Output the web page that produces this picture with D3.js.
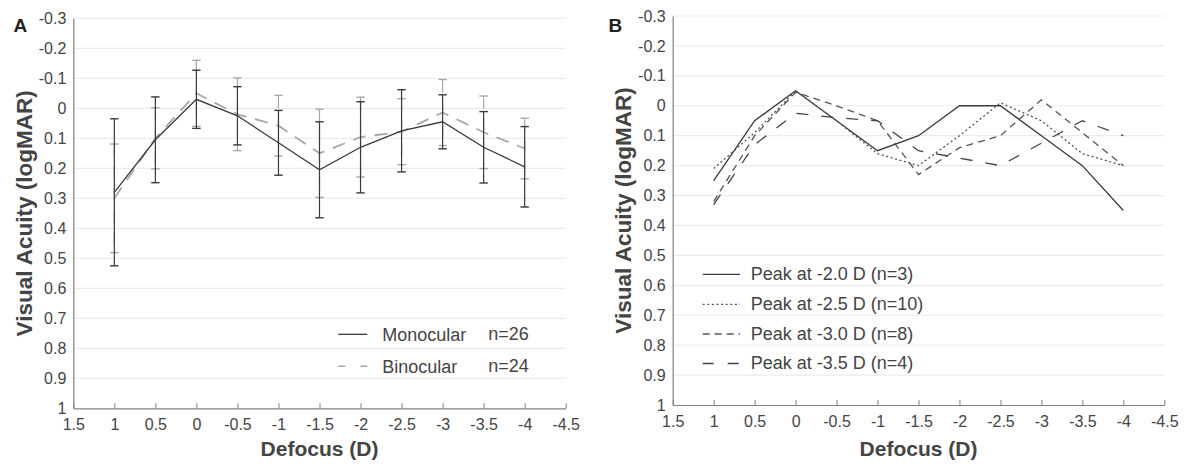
<!DOCTYPE html>
<html><head><meta charset="utf-8">
<script src="https://cdn.jsdelivr.net/npm/d3@7"></script>
<style>
html,body{margin:0;padding:0;background:#fff;}
svg{display:block;font-family:"Liberation Sans",Arial,sans-serif;}
</style></head>
<body>
<svg id="chart" width="1184" height="464"></svg>
<script>
// ---------- data ----------
const defocus = [1, 0.5, 0, -0.5, -1, -1.5, -2, -2.5, -3, -3.5, -4];
const xTickValues = [1.5, 1, 0.5, 0, -0.5, -1, -1.5, -2, -2.5, -3, -3.5, -4, -4.5];
const xTickLabels = ["1.5","1","0.5","0","-0.5","-1","-1.5","-2","-2.5","-3","-3.5","-4","-4.5"];
const yTickValues = [-0.3,-0.2,-0.1,0,0.1,0.2,0.3,0.4,0.5,0.6,0.7,0.8,0.9,1];
const yTickLabels = ["-0.3","-0.2","-0.1","0","0.1","0.2","0.3","0.4","0.5","0.6","0.7","0.8","0.9","1"];

// Panel A: mean and SD
const monoMean = [0.28, 0.105, -0.03, 0.025, 0.115, 0.205, 0.13, 0.075, 0.045, 0.13, 0.195];
const monoSD   = [0.245, 0.143, 0.097, 0.097, 0.108, 0.16, 0.152, 0.137, 0.09, 0.119, 0.134];
const binoMean = [0.30, 0.10, -0.05, 0.02, 0.058, 0.15, 0.096, 0.078, 0.014, 0.08, 0.134];
const binoSD   = [0.181, 0.102, 0.11, 0.121, 0.101, 0.147, 0.133, 0.11, 0.11, 0.121, 0.101];
const legendA = ["Monocular", "Binocular"];
const legendAn = ["n=26", "n=24"];

// Panel B: peak groups
const peak20 = [0.25, 0.05, -0.05, 0.05, 0.15, 0.10, 0.00, 0.00, 0.10, 0.20, 0.35];
const peak25 = [0.21, 0.09, -0.05, 0.05, 0.16, 0.20, 0.10, -0.01, 0.05, 0.16, 0.20];
const peak30 = [0.32, 0.10, -0.045, 0.00, 0.05, 0.23, 0.14, 0.10, -0.02, 0.09, 0.20];
const peak35 = [0.33, 0.13, 0.025, 0.04, 0.05, 0.15, 0.175, 0.20, 0.125, 0.05, 0.10];
const legendB = ["Peak at -2.0 D (n=3)", "Peak at -2.5 D (n=10)", "Peak at -3.0 D (n=8)", "Peak at -3.5 D (n=4)"];

// ---------- drawing ----------
const svg = d3.select("#chart");
const GRID = "#ebebeb", AXIS = "#808080", TXT = "#444";

function panel(opt) {
  const x = d3.scaleLinear().domain([1.5, -4.5]).range([opt.x0, opt.x1]);
  const y = d3.scaleLinear().domain([-0.3, 1]).range([opt.y0, opt.y1]);
  const g = svg.append("g");
  // gridlines
  g.append("g").selectAll("line").data(yTickValues.slice(0, -1)).join("line")
    .attr("x1", opt.x0).attr("x2", opt.x1)
    .attr("y1", d => y(d)).attr("y2", d => y(d))
    .attr("stroke", GRID).attr("stroke-width", 1.2);
  // x axis
  const xa = g.append("g").attr("transform", `translate(0,${opt.y1})`)
    .call(d3.axisBottom(x).tickValues(xTickValues)
      .tickFormat((d, i) => xTickLabels[i]).tickSizeInner(-5).tickSizeOuter(0).tickPadding(10.5));
  xa.select(".domain").attr("stroke", AXIS).attr("stroke-width", 1.2);
  xa.selectAll(".tick line").attr("stroke", AXIS).attr("stroke-width", 1);
  xa.selectAll("text").attr("fill", TXT).attr("font-size", 16);
  // y axis
  const ya = g.append("g").attr("transform", `translate(${opt.x0},0)`)
    .call(d3.axisLeft(y).tickValues(yTickValues)
      .tickFormat((d, i) => yTickLabels[i]).tickSize(0).tickPadding(7));
  ya.select(".domain").attr("stroke", AXIS).attr("stroke-width", 1.2);
  ya.selectAll("text").attr("fill", TXT).attr("font-size", 16);
  // titles
  g.append("text").attr("x", (opt.x0 + opt.x1) / 2).attr("y", 456)
    .attr("text-anchor", "middle").attr("font-weight", "bold").attr("font-size", 21)
    .attr("fill", TXT).text("Defocus (D)");
  g.append("text").attr("transform", `translate(${opt.x0 - 41.5},${(opt.y0 + opt.y1) / 2}) rotate(-90)`)
    .attr("text-anchor", "middle").attr("font-weight", "bold").attr("font-size", 22.5)
    .attr("fill", TXT).text("Visual Acuity (logMAR)");
  g.append("text").attr("x", opt.labelX).attr("y", 31.7)
    .attr("font-weight", "bold").attr("font-size", 19).attr("fill", "#222").text(opt.label);
  return {x, y, g};
}

// Panel A
const A = panel({x0: 73.3, x1: 565.7, y0: 18.3, y1: 408.3, label: "A", labelX: 13.5});
function errorSeries(P, mean, sd, color, dash, width) {
  const pts = defocus.map((d, i) => ({d, m: mean[i], s: sd[i]}));
  const eg = P.g.append("g").attr("stroke", color).attr("fill", "none");
  eg.selectAll("line.stem").data(pts).join("line").attr("class", "stem")
    .attr("x1", p => P.x(p.d)).attr("x2", p => P.x(p.d))
    .attr("y1", p => P.y(p.m - p.s)).attr("y2", p => P.y(p.m + p.s))
    .attr("stroke-width", 1.2).attr("stroke-dasharray", dash);
  eg.selectAll("line.capT").data(pts).join("line").attr("class", "capT")
    .attr("x1", p => P.x(p.d) - 4.2).attr("x2", p => P.x(p.d) + 4.2)
    .attr("y1", p => P.y(p.m - p.s)).attr("y2", p => P.y(p.m - p.s)).attr("stroke-width", 1.4);
  eg.selectAll("line.capB").data(pts).join("line").attr("class", "capB")
    .attr("x1", p => P.x(p.d) - 4.2).attr("x2", p => P.x(p.d) + 4.2)
    .attr("y1", p => P.y(p.m + p.s)).attr("y2", p => P.y(p.m + p.s)).attr("stroke-width", 1.4);
  P.g.append("path").datum(pts)
    .attr("d", d3.line().x(p => P.x(p.d)).y(p => P.y(p.m)))
    .attr("fill", "none").attr("stroke", color).attr("stroke-width", width)
    .attr("stroke-dasharray", dash);
}
errorSeries(A, binoMean, binoSD, "#a8a8a8", "13,9", 1.8);
errorSeries(A, monoMean, monoSD, "#3a3a3a", null, 1.3);
// legend A
const legA = A.g.append("g");
const lgAy = [334.3, 366.2];
legA.append("line").attr("x1", 338.3).attr("x2", 367.3).attr("y1", lgAy[0]).attr("y2", lgAy[0])
  .attr("stroke", "#3a3a3a").attr("stroke-width", 1.3);
legA.append("line").attr("x1", 338.3).attr("x2", 367.3).attr("y1", lgAy[1]).attr("y2", lgAy[1])
  .attr("stroke", "#a8a8a8").attr("stroke-width", 1.6).attr("stroke-dasharray", "7,15");
legendA.forEach((t, i) => {
  legA.append("text").attr("x", 382.3).attr("y", lgAy[i] + 6.4).attr("font-size", 18)
    .attr("fill", TXT).text(t);
  legA.append("text").attr("x", 488.3).attr("y", lgAy[i] + 5.8).attr("font-size", 18)
    .attr("fill", TXT).text(legendAn[i]);
});

// Panel B
const B = panel({x0: 672.7, x1: 1164.3, y0: 16, y1: 405, label: "B", labelX: 608.5});
const bSeries = [peak20, peak25, peak30, peak35];
const bStyles = [
  {dash: null, color: "#3a3a3a", w: 1.3},
  {dash: "2,2.6", color: "#555", w: 1.3},
  {dash: "7,5", color: "#555", w: 1.3},
  {dash: "12,13", color: "#444", w: 1.3}
];
bSeries.forEach((vals, k) => {
  B.g.append("path").datum(vals)
    .attr("d", d3.line().x((v, i) => B.x(defocus[i])).y(v => B.y(v)))
    .attr("fill", "none").attr("stroke", bStyles[k].color).attr("stroke-width", bStyles[k].w)
    .attr("stroke-dasharray", bStyles[k].dash);
});
const lgBy = [274.3, 304.3, 334, 363.5];
legendB.forEach((t, i) => {
  B.g.append("line").attr("x1", 702.7).attr("x2", 740).attr("y1", lgBy[i]).attr("y2", lgBy[i])
    .attr("stroke", bStyles[i].color).attr("stroke-width", bStyles[i].w)
    .attr("stroke-dasharray", i === 3 ? "11,14" : bStyles[i].dash);
  B.g.append("text").attr("x", 750.7).attr("y", lgBy[i] + 5.8).attr("font-size", 18)
    .attr("fill", TXT).text(t);
});
</script>
</body></html>
